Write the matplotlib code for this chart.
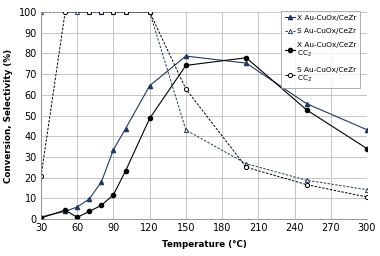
import matplotlib
matplotlib.use("Agg")
import matplotlib.pyplot as plt

## temperatures (deg C) and the four series
temp_x = [30, 50, 60, 70, 80, 90, 100, 120, 150, 200, 250, 300]
x_cezr = [1, 3.7, 5.8, 9.7, 17.9, 33.5, 43.6, 64.4, 78.7, 75.3, 55.7, 43.1]

temp_s = [30, 60, 70, 80, 90, 100, 120, 150, 200, 250, 300]
s_cezr = [100, 100, 100, 100, 100, 100, 100, 43, 26.7, 18.7, 14.2]

x_cc2 = [0.5, 4.3, 0.8, 3.7, 6.6, 11.7, 23.2, 48.6, 74.2, 77.9, 52.7, 34]

temp_s2 = [30, 50, 70, 80, 90, 100, 120, 150, 200, 250, 300]
s_cc2 = [20.6, 100, 100, 100, 100, 100, 100, 62.8, 25, 16.6, 10.6]

xticks = list(range(30, 301, 30))
yticks = list(range(0, 101, 10))

navy = "#1F3A60"

fig = plt.figure(figsize=(3.8, 2.56), dpi=100)
ax = fig.add_axes([41/380, 1 - 219/256, 326/380, 207/256])

ax.plot(temp_x, x_cezr, "-", color=navy, lw=0.8, marker="^", ms=3,
        mfc=navy, mec=navy, label="X Au-CuOx/CeZr")
ax.plot(temp_s, s_cezr, "--", color=navy, lw=0.7, dashes=(2.5, 1.5), marker="^", ms=3,
        mfc="white", mec=navy, mew=0.7, label="S Au-CuOx/CeZr")
ax.plot(temp_x, x_cc2, "-", color="black", lw=0.8, marker="o", ms=3,
        mfc="black", mec="black", label="X Au-CuOx/CeZr\nCC$_2$")
ax.plot(temp_s2, s_cc2, "--", color="black", lw=0.7, dashes=(2.5, 1.5), marker="o", ms=3,
        mfc="white", mec="black", mew=0.7, label="S Au-CuOx/CeZr\nCC$_2$")

ax.set_xlim(30, 300)
ax.set_ylim(0, 100)
ax.set_xticks(xticks)
ax.set_yticks(yticks)
ax.tick_params(labelsize=7, length=0, pad=3)
ax.grid(True, color="#BBBBBB", lw=0.6)
ax.set_axisbelow(True)
for s in ["top", "right"]:
    ax.spines[s].set_visible(False)
for s in ["left", "bottom"]:
    ax.spines[s].set_color("#888888")
    ax.spines[s].set_linewidth(0.6)

ax.set_xlabel("Temperature (°C)", fontsize=6.3, fontweight="bold", labelpad=5)
ax.set_ylabel("Conversion, Selectivity (%)", fontsize=6.3, fontweight="bold", labelpad=4)

leg = ax.legend(loc="upper right", bbox_to_anchor=(0.98, 1.005), fontsize=5.3,
                frameon=True, fancybox=False, handlelength=1.4, labelspacing=1.0,
                borderpad=0.5, handletextpad=0.3, borderaxespad=0)
leg.get_frame().set_edgecolor("#888888")
leg.get_frame().set_linewidth(0.6)

fig.savefig("out.png", dpi=100)
